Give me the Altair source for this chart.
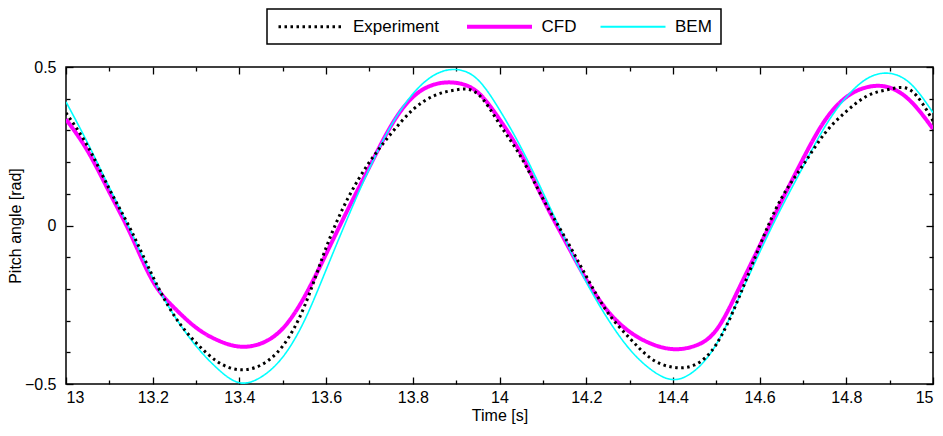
import altair as alt
import pandas as pd

# ---- data ----
time = [13.00, 13.05, 13.10, 13.15, 13.20, 13.25, 13.30, 13.35, 13.40, 13.45,
        13.50, 13.55, 13.60, 13.65, 13.70, 13.75, 13.80, 13.85, 13.90, 13.95,
        14.00, 14.05, 14.10, 14.15, 14.20, 14.25, 14.30, 14.35, 14.40, 14.45,
        14.50, 14.55, 14.60, 14.65, 14.70, 14.75, 14.80, 14.85, 14.90, 14.95,
        15.00]

experiment = [0.355, 0.25, 0.115, -0.015, -0.16, -0.285, -0.37, -0.43, -0.455, -0.44,
              -0.38, -0.255, -0.07, 0.085, 0.2, 0.29, 0.365, 0.41, 0.428, 0.415,
              0.32, 0.215, 0.085, -0.035, -0.16, -0.275, -0.355, -0.42, -0.447, -0.44,
              -0.375, -0.235, -0.065, 0.085, 0.19, 0.29, 0.36, 0.41, 0.43, 0.425,
              0.33]

cfd = [0.335, 0.235, 0.105, -0.03, -0.175, -0.26, -0.322, -0.362, -0.382, -0.372,
       -0.325, -0.225, -0.09, 0.05, 0.185, 0.315, 0.405, 0.445, 0.45, 0.42,
       0.335, 0.225, 0.085, -0.045, -0.17, -0.27, -0.335, -0.373, -0.39, -0.38,
       -0.33, -0.205, -0.065, 0.075, 0.21, 0.33, 0.405, 0.437, 0.435, 0.39,
       0.305]

bem = [0.39, 0.26, 0.12, -0.02, -0.165, -0.285, -0.38, -0.452, -0.496, -0.478,
       -0.415, -0.3, -0.14, 0.025, 0.18, 0.315, 0.415, 0.475, 0.492, 0.46,
       0.365, 0.245, 0.105, -0.04, -0.178, -0.295, -0.39, -0.455, -0.486, -0.458,
       -0.375, -0.235, -0.085, 0.055, 0.185, 0.31, 0.405, 0.465, 0.48, 0.445,
       0.356]

series_names = ["Experiment", "CFD", "BEM"]
series_colors = ["#000000", "#ff00ff", "#00ffff"]

x_major = [13.0, 13.2, 13.4, 13.6, 13.8, 14.0, 14.2, 14.4, 14.6, 14.8, 15.0]
x_minor = [13.1, 13.3, 13.5, 13.7, 13.9, 14.1, 14.3, 14.5, 14.7, 14.9]
y_major = [-0.5, 0.0, 0.5]
y_minor = [-0.4, -0.3, -0.2, -0.1, 0.1, 0.2, 0.3, 0.4]

rows = []
for name, vals in zip(series_names, [experiment, cfd, bem]):
    for t, v in zip(time, vals):
        rows.append({"t": t, "v": v, "series": name})
df = pd.DataFrame(rows)
df_small = df.iloc[:2]

W, H = 867, 317
FONT = "Liberation Sans"

xscale = alt.Scale(domain=[13, 15], nice=False, zero=False)
yscale = alt.Scale(domain=[-0.5, 0.5], nice=False, zero=False)

legend = alt.Legend(
    title=None, orient="none", legendX=201, legendY=-58, direction="horizontal",
    strokeColor="black", fillColor="white", padding=9,
    labelFontSize=17, labelColor="black", labelFont=FONT,
    symbolType="M-2.5,0H2.5", symbolSize=676, symbolOffset=26.5, labelOffset=33.5,
    columnPadding=19.5,
    symbolStrokeWidth={"expr": "datum.value === 'CFD' ? 4 : datum.value === 'BEM' ? 2 : 3"},
)

color = alt.Color("series:N", scale=alt.Scale(domain=series_names, range=series_colors), legend=legend)
dash = alt.StrokeDash("series:N", scale=alt.Scale(domain=series_names, range=[[2.5, 3.5], [1, 0], [1, 0]]),
                      legend=legend)
line_widths = {"Experiment": 3, "CFD": 4, "BEM": 1.6}

x_main = alt.Axis(values=x_major, format=".1~f", ticks=False, tickSize=0, domain=False, grid=False,
                  labelPadding=5, title="Time [s]", titlePadding=2)
y_main = alt.Axis(values=y_major, format=".1~f", ticks=False, tickSize=0, domain=False, grid=False,
                  labelPadding=10, title="Pitch angle [rad]", titleX=-43)


def line_layer(name, with_axes):
    return alt.Chart(df).transform_filter(alt.datum.series == name).mark_line(
        interpolate="natural", clip=True, strokeWidth=line_widths[name]
    ).encode(
        x=alt.X("t:Q", scale=xscale, axis=x_main if with_axes else None),
        y=alt.Y("v:Q", scale=yscale, axis=y_main if with_axes else None),
        color=color, strokeDash=dash,
    )


def tick_layer(xorient, yorient, xvals, yvals, size):
    ax = alt.Axis(orient=xorient, offset=-H, values=xvals, labels=False, domain=False, grid=False,
                  ticks=True, tickSize=size, tickColor="black", tickWidth=1.3, title=None)
    ay = alt.Axis(orient=yorient, offset=-W, values=yvals, labels=False, domain=False, grid=False,
                  ticks=True, tickSize=size, tickColor="black", tickWidth=1.3, title=None)
    return alt.Chart(df_small).mark_point(opacity=0).encode(
        x=alt.X("t:Q", scale=xscale, axis=ax),
        y=alt.Y("v:Q", scale=yscale, axis=ay),
    )


layers = [
    tick_layer("top", "right", x_minor, y_minor, 4),
    tick_layer("bottom", "left", x_minor, y_minor, 4),
    tick_layer("top", "right", x_major, y_major, 7),
    tick_layer("bottom", "left", x_major, y_major, 7),
    line_layer("CFD", True),
    line_layer("BEM", False),
    line_layer("Experiment", False),
]

chart = alt.layer(*layers).properties(
    width=W, height=H, autosize="none",
    padding={"left": 58, "top": 59, "right": 2, "bottom": 40},
).resolve_axis(x="independent", y="independent").configure(font=FONT).configure_view(
    stroke="black", strokeWidth=1.5
).configure_axis(
    labelFontSize=16, titleFontSize=16, titleFontWeight="normal", labelColor="black",
    titleColor="black", labelFont=FONT, titleFont=FONT,
).configure_legend(strokeWidth=1.5)

chart.save("out.html", embed_options={"renderer": "svg", "actions": False})
